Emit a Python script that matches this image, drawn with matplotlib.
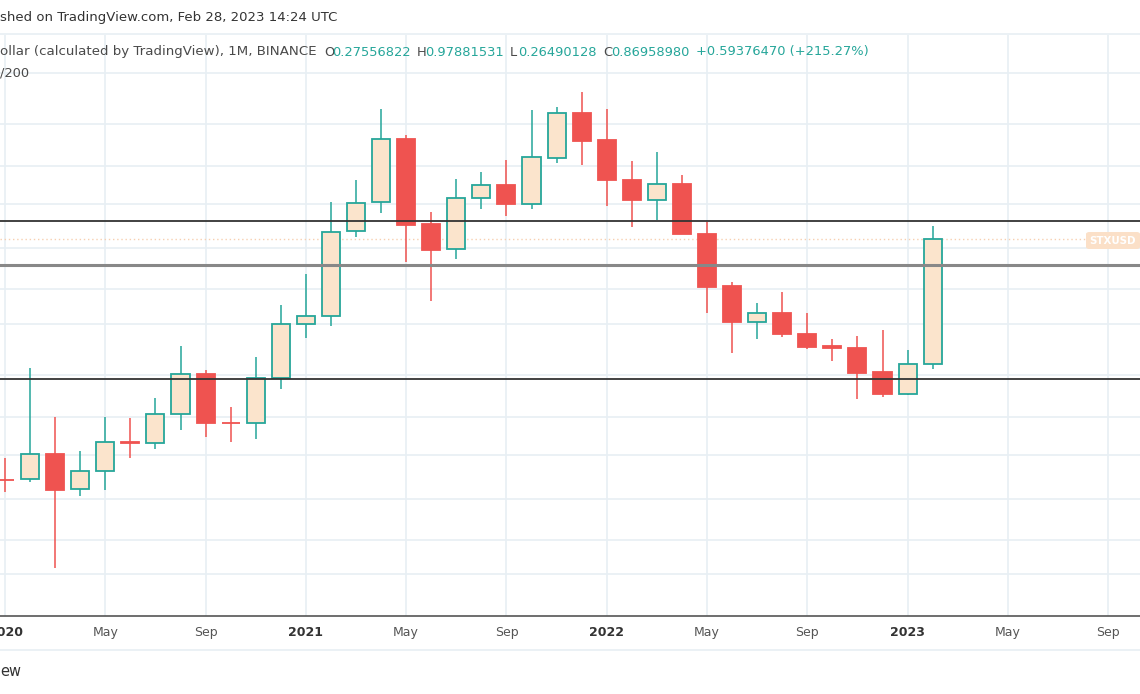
import matplotlib
matplotlib.use("Agg")
import matplotlib.pyplot as plt
from matplotlib.lines import Line2D
from matplotlib.patches import FancyBboxPatch

# ---- data (monthly STX/USD candles, Jan 2020 .. Feb 2023) ----
months = ["2020-01", "2020-02", "2020-03", "2020-04", "2020-05", "2020-06", "2020-07", "2020-08",
          "2020-09", "2020-10", "2020-11", "2020-12", "2021-01", "2021-02", "2021-03", "2021-04",
          "2021-05", "2021-06", "2021-07", "2021-08", "2021-09", "2021-10", "2021-11", "2021-12",
          "2022-01", "2022-02", "2022-03", "2022-04", "2022-05", "2022-06", "2022-07", "2022-08",
          "2022-09", "2022-10", "2022-11", "2022-12", "2023-01", "2023-02"]
opens = [0.0955, 0.0957, 0.1205, 0.0873, 0.1030, 0.1348, 0.1333, 0.1750, 0.2513, 0.1612, 0.1606, 0.2423,
         0.3980, 0.4296, 0.9359, 1.2219, 2.1867, 0.9982, 0.7932, 1.2677, 1.4326, 1.1996, 1.8311, 2.7849,
         2.1667, 1.5000, 1.2481, 1.4419, 0.9155, 0.5676, 0.4054, 0.4428, 0.3641, 0.3252, 0.3210, 0.2560,
         0.2097, 0.27556822]
highs = [0.1168, 0.2656, 0.1697, 0.1242, 0.1697, 0.1677, 0.2016, 0.3261, 0.2615, 0.1861, 0.2955, 0.4753,
         0.6303, 1.2287, 1.5000, 2.8890, 2.2687, 1.1146, 1.5097, 1.6144, 1.7978, 2.8469, 2.9265, 3.3687,
         2.8732, 1.7862, 1.9403, 1.5662, 1.0195, 0.5873, 0.4828, 0.5342, 0.4404, 0.3468, 0.3574, 0.3777,
         0.3143, 0.97881531]
lows = [0.0854, 0.0931, 0.0425, 0.0821, 0.0865, 0.1168, 0.1261, 0.1502, 0.1412, 0.1345, 0.1390, 0.2202,
        0.3519, 0.3919, 0.8857, 1.1105, 0.7058, 0.4945, 0.7235, 1.1521, 1.0773, 1.1521, 1.7488, 1.7217,
        1.1778, 0.9764, 1.0384, 0.9103, 0.4404, 0.3049, 0.3468, 0.3551, 0.3163, 0.2848, 0.1997, 0.2046,
        0.2078, 0.26490128]
closes = [0.0950, 0.1205, 0.0870, 0.1030, 0.1345, 0.1342, 0.1745, 0.2513, 0.1606, 0.1605, 0.2423, 0.4002,
          0.4296, 0.9274, 1.2174, 2.1806, 0.9918, 0.7903, 1.2677, 1.4287, 1.1996, 1.8480, 2.7849, 2.1469,
          1.4958, 1.2481, 1.4419, 0.9130, 0.5624, 0.4065, 0.4428, 0.3631, 0.3240, 0.3192, 0.2544, 0.2091,
          0.2756, 0.86958980]
level_lines = [1.028, 0.240]
level_line_gray = 0.684
grid_prices = [0.04, 0.055, 0.08, 0.12, 0.17, 0.25, 0.4, 0.55, 0.8, 1.2, 1.7, 2.5, 4.0]
xtick_pos = [0, 4, 8, 12, 16, 20, 24, 28, 32, 36, 40, 44]
xtick_labels = ["2020", "May", "Sep", "2021", "May", "Sep", "2022", "May", "Sep", "2023", "May", "Sep"]

GREEN = "#26a69a"
GREEN_FILL = "#fbe4cc"
RED = "#ef5350"
GRID = "#e8eff4"
TXT = "#4a4a4a"

plt.rcParams["font.family"] = ["DejaVu Sans"]

fig = plt.figure(figsize=(11.4, 6.94), dpi=100)
W, H = 1140, 694
ax = fig.add_axes([0, 1 - 616 / H, 1, (616 - 35) / H])
ax.set_yscale("log")
ax.set_xlim(-0.2, 45.27)
ax.set_ylim(0.02723, 5.689)

for gp in grid_prices:
    ax.axhline(gp, color=GRID, lw=1.2, zorder=0)
for xp in xtick_pos:
    ax.axvline(xp, color=GRID, lw=1.2, zorder=0)

xs = list(range(len(months)))
bw = 0.72
for i in xs:
    o, h, l, c = opens[i], highs[i], lows[i], closes[i]
    up = c >= o
    col = GREEN if up else RED
    ax.vlines(i, l, h, color=col, lw=1.3, zorder=2, alpha=0.85)
    lo, hi = min(o, c), max(o, c)
    if up:
        ax.bar(i, hi - lo, bottom=lo, width=bw, color=GREEN_FILL, edgecolor=GREEN, linewidth=1.3, zorder=3)
    else:
        ax.bar(i, hi - lo, bottom=lo, width=bw, color=RED, edgecolor=RED, linewidth=1.3, zorder=3)

for lv in level_lines:
    ax.axhline(lv, color="#333333", lw=1.3, zorder=4)
ax.axhline(level_line_gray, color="#888888", lw=2.2, zorder=4)
ax.axhline(closes[-1], color="#f7cfb0", lw=1, ls=(0, (1, 2)), zorder=1)

ax.set_xticks(xtick_pos)
ax.set_xticklabels(xtick_labels)
for lab, txt in zip(ax.get_xticklabels(), xtick_labels):
    if txt.isdigit():
        lab.set_color("#333333")
        lab.set_fontweight("semibold")
    else:
        lab.set_color("#555555")
    lab.set_fontsize(9)
ax.tick_params(axis="x", length=0, pad=7)
ax.set_yticks([])
ax.minorticks_off()
ax.yaxis.set_minor_locator(matplotlib.ticker.NullLocator())
for s in ["top", "right", "left"]:
    ax.spines[s].set_visible(False)
ax.spines["bottom"].set_color("#555555")
ax.spines["bottom"].set_linewidth(1.2)

# price label on the right
fig.patches.append(FancyBboxPatch((1086 / W, 1 - 249 / H), 54 / W, 17 / H,
                                  boxstyle="round,pad=0,rounding_size=0.003",
                                  transform=fig.transFigure, facecolor="#fbe0c8",
                                  edgecolor="none", zorder=5))
fig.text(1113 / W, 1 - 240.5 / H, "STXUSD", color="white", fontsize=7.4, va="center", ha="center",
         fontweight="bold", zorder=6)

# frame lines
fig.add_artist(Line2D([0, 1], [1 - 34 / H, 1 - 34 / H], color=GRID, lw=1.2))
fig.add_artist(Line2D([0, 1], [1 - 650 / H, 1 - 650 / H], color=GRID, lw=1.2))

# header texts
fig.text(0, 1 - 18 / H, "shed on TradingView.com, Feb 28, 2023 14:24 UTC", color="#333333",
         fontsize=9.5, va="center", ha="left")
fig.text(0, 1 - 52 / H, "ollar (calculated by TradingView), 1M, BINANCE", color=TXT,
         fontsize=9.6, va="center", ha="left")
items = [("O", "0.27556822", 324), ("H", "0.97881531", 417), ("L", "0.26490128", 510),
         ("C", "0.86958980", 603)]
for k, v, x0 in items:
    fig.text(x0 / W, 1 - 52 / H, k, color=TXT, fontsize=9.4, va="center", ha="left")
    fig.text((x0 + 8.5) / W, 1 - 52 / H, v, color=GREEN, fontsize=9.4, va="center", ha="left")
fig.text(696 / W, 1 - 52 / H, "+0.59376470 (+215.27%)", color=GREEN, fontsize=9.4,
         va="center", ha="left")
fig.text(0, 1 - 73 / H, "/200", color=TXT, fontsize=9.4, va="center", ha="left")
fig.text(0, 1 - 672 / H, "ew", color="#333333", fontsize=10.5, va="center", ha="left")

fig.savefig("out.png", dpi=100)
